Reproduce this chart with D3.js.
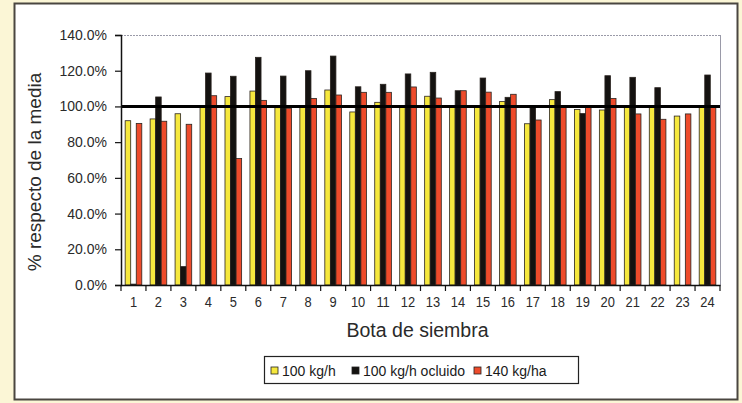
<!DOCTYPE html>
<html>
<head>
<meta charset="utf-8">
<script src="https://cdn.jsdelivr.net/npm/d3@7"></script>
<style>
  html, body { margin: 0; padding: 0; background: #fbf6d6; }
  svg { display: block; }
</style>
</head>
<body>
<svg id="chart" width="742" height="403"></svg>
<script>
const categories = ["1","2","3","4","5","6","7","8","9","10","11","12","13","14","15","16","17","18","19","20","21","22","23","24"];
const seriesNames = ["100 kg/h", "100 kg/h ocluido", "140 kg/ha"];
const s100 =        [92.0, 93.0, 95.9, 99.5, 105.5, 108.6, 99.3, 99.5, 109.2, 96.9, 102.3, 99.5, 105.7, 100.5, 99.5, 102.7, 90.3, 103.8, 98.3, 98.0, 99.5, 99.5, 94.6, 99.5];
const s100ocluido = [0.5, 105.3, 10.3, 118.7, 116.9, 127.5, 117.0, 120.0, 128.2, 111.0, 112.4, 118.2, 119.1, 108.8, 115.9, 105.1, 99.7, 108.3, 96.0, 117.2, 116.3, 110.5, 0, 117.6];
const s140 =        [90.5, 91.7, 90.0, 106.0, 70.8, 103.4, 99.0, 104.5, 106.4, 107.9, 107.9, 110.9, 104.7, 108.8, 108.0, 106.8, 92.4, 99.7, 99.8, 104.5, 95.8, 92.8, 95.8, 99.5];
const yTicks = [0, 20, 40, 60, 80, 100, 120, 140];
const referenceLine = 100;
const colors = ["#f6e83e", "#141210", "#ee4b2b"];

const seriesValues = [s100, s100ocluido, s140];
const data = categories.map((c, i) => ({
  cat: c,
  vals: seriesNames.map((s, j) => ({ key: s, idx: j, value: seriesValues[j][i] }))
}));

const svg = d3.select("#chart");
// outer white panel
svg.append("rect").attr("x", 14.5).attr("y", 3.5).attr("width", 723).attr("height", 396)
  .attr("fill", "#ffffff").attr("stroke", "#4a4640").attr("stroke-width", 2);

const L = 121, R = 720, T = 35, B = 285;
const x0 = d3.scaleBand().domain(categories).range([L, R]).padding(0);
const x1 = d3.scaleBand().domain(seriesNames).range([0, x0.bandwidth()]).paddingInner(0).paddingOuter(0.75);
const y = d3.scaleLinear().domain([0, 140]).range([B, T]);

// plot area border (top & right)
svg.append("line").attr("x1", L).attr("x2", R).attr("y1", T + 0.5).attr("y2", T + 0.5)
  .attr("stroke", "#9a9aa8").attr("stroke-width", 1).attr("stroke-dasharray", "2,1");
svg.append("line").attr("x1", R + 0.5).attr("x2", R + 0.5).attr("y1", T).attr("y2", B)
  .attr("stroke", "#9a9aa8").attr("stroke-width", 1);

// bars
const g = svg.append("g");
g.selectAll("g.cat").data(data).join("g")
  .attr("class", "cat")
  .attr("transform", d => `translate(${x0(d.cat)},0)`)
  .selectAll("rect").data(d => d.vals.filter(v => v.value > 0)).join("rect")
  .attr("x", v => x1(v.key))
  .attr("width", x1.bandwidth())
  .attr("y", v => y(v.value))
  .attr("height", v => B - y(v.value))
  .attr("fill", v => colors[v.idx])
  .attr("stroke", "#2a2420").attr("stroke-width", 0.8);

// reference line at 100%
svg.append("line").attr("x1", L).attr("x2", R)
  .attr("y1", y(referenceLine)).attr("y2", y(referenceLine))
  .attr("stroke", "#000").attr("stroke-width", 3);

// y axis
const yAxis = d3.axisLeft(y).tickValues(yTicks).tickSize(6).tickPadding(8)
  .tickFormat(d => d3.format(".1%")(d / 100));
const ya = svg.append("g").attr("transform", `translate(${L},0)`).call(yAxis);
ya.select(".domain").attr("stroke", "#111").attr("stroke-width", 1.5);
ya.selectAll(".tick line").attr("stroke", "#111").attr("stroke-width", 1.2);
ya.selectAll("text").attr("font-family", "Liberation Sans, Arial, sans-serif")
  .attr("font-size", 14).attr("fill", "#2a2a2a");

// x axis
const xAxis = d3.axisBottom(x0).tickSize(0).tickPadding(11);
const xa = svg.append("g").attr("transform", `translate(0,${B})`).call(xAxis);
xa.select(".domain").attr("stroke", "#111").attr("stroke-width", 1.5);
xa.selectAll("text").attr("font-family", "Liberation Sans, Arial, sans-serif")
  .attr("font-size", 15).attr("fill", "#2a2a2a")
  .attr("transform", "scale(0.86,1)");
// category boundary ticks
const bounds = categories.map(c => x0(c)).concat([R]);
xa.selectAll("line.bt").data(bounds).join("line").attr("class", "bt")
  .attr("x1", d => d).attr("x2", d => d).attr("y1", 0).attr("y2", 6)
  .attr("stroke", "#111").attr("stroke-width", 1.2);

// axis titles
svg.append("text").attr("transform", `translate(41,172) rotate(-90)`)
  .attr("text-anchor", "middle").attr("font-family", "Liberation Sans, Arial, sans-serif")
  .attr("font-size", 19).attr("fill", "#2a2a2a").text("% respecto de la media");
svg.append("text").attr("x", (L + R) / 2 - 3).attr("y", 337)
  .attr("text-anchor", "middle").attr("font-family", "Liberation Sans, Arial, sans-serif")
  .attr("font-size", 19.5).attr("fill", "#2a2a2a").text("Bota de siembra");

// legend
const lg = svg.append("g");
lg.append("rect").attr("x", 264.5).attr("y", 356.5).attr("width", 314).attr("height", 27)
  .attr("fill", "#fff").attr("stroke", "#222").attr("stroke-width", 1.2);
const legendX = [271, 352, 474];
seriesNames.forEach((s, i) => {
  lg.append("rect").attr("x", legendX[i]).attr("y", 367).attr("width", 7).attr("height", 7)
    .attr("fill", colors[i]).attr("stroke", "#222").attr("stroke-width", 0.8);
  lg.append("text").attr("x", legendX[i] + 11).attr("y", 375.5)
    .attr("font-family", "Liberation Sans, Arial, sans-serif")
    .attr("font-size", 14).attr("fill", "#1a1a1a").text(s);
});
</script>
</body>
</html>
